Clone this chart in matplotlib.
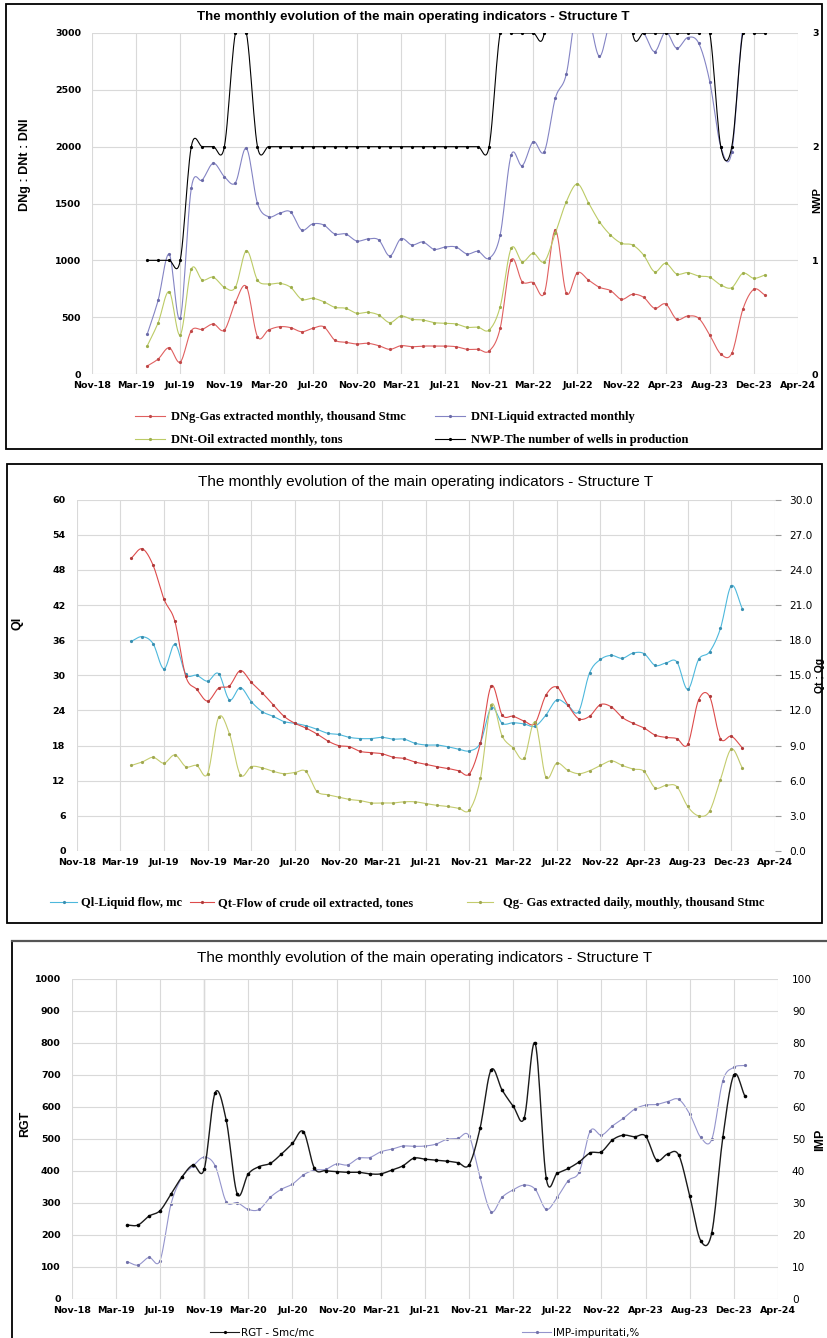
import numpy as np
import pandas as pd
import matplotlib
matplotlib.use("Agg")
import matplotlib.pyplot as plt
from matplotlib.lines import Line2D
from matplotlib.patches import Rectangle

# ---------------------------------------------------------------- data
months = pd.date_range("2019-04-01", "2023-12-01", freq="MS")

tick_labels = ["Nov-18", "Mar-19", "Jul-19", "Nov-19", "Mar-20", "Jul-20",
               "Nov-20", "Mar-21", "Jul-21", "Nov-21", "Mar-22", "Jul-22",
               "Nov-22", "Apr-23", "Aug-23", "Dec-23", "Apr-24"]

# Chart 1 - monthly volumes
dng = [70, 132, 231, 105, 381, 393, 440, 387, 631, 768,
       328, 387, 416, 408, 372, 401, 416, 299, 279, 264,
       270, 249, 217, 249, 240, 246, 246, 246, 240, 217,
       217, 202, 402, 1003, 812, 804, 710, 1267, 710, 892,
       827, 763, 734, 657, 701, 675, 578, 616, 481, 510,
       490, 343, 176, 182, 569, 745, 695]
dni = [349, 651, 1053, 490, 1634, 1707, 1854, 1736, 1683, 1986,
       1502, 1384, 1414, 1426, 1267, 1320, 1311, 1232, 1232, 1170,
       1188, 1179, 1038, 1190, 1135, 1161, 1097, 1117, 1117, 1056,
       1079, 1018, 1223, 1927, 1833, 2044, 1956, 2426, 2640, 3250,
       3150, 2794, 3100, 3050, 3020, 3000, 2836, 3010, 2866, 2960,
       2910, 2573, 2000, 1956, 3050, 3250, 3200]
dnt = [246, 452, 724, 343, 921, 827, 851, 763, 763, 1085,
       827, 792, 798, 763, 657, 666, 636, 587, 578, 534,
       543, 519, 452, 510, 481, 475, 452, 446, 440, 411,
       411, 387, 592, 1106, 988, 1062, 988, 1238, 1516, 1672,
       1508, 1340, 1223, 1150, 1135, 1047, 900, 974, 880, 892,
       862, 851, 783, 760, 886, 842, 871]
nwp = [1, 1, 1, 1, 2, 2, 2, 2, 3, 3,
       2, 2, 2, 2, 2, 2, 2, 2, 2, 2,
       2, 2, 2, 2, 2, 2, 2, 2, 2, 2,
       2, 2, 3, 3, 3, 3, 3, 4, 4, 4,
       4, 4, 4, 4, 3, 3, 3, 3, 3, 3,
       3, 3, 2, 2, 3, 3, 3]

# Chart 2 - daily flows
ql = [35.8, 36.6, 35.4, 31.1, 35.3, 30.2, 30.0, 29.0, 30.3, 25.8,
      27.9, 25.5, 23.8, 23.0, 22.1, 21.8, 21.4, 20.8, 20.1, 19.9,
      19.4, 19.2, 19.2, 19.4, 19.1, 19.1, 18.4, 18.1, 18.1, 17.8,
      17.4, 17.1, 18.5, 24.5, 21.8, 21.9, 21.7, 21.3, 23.2, 25.8,
      24.9, 23.8, 30.4, 32.7, 33.4, 32.9, 33.8, 33.7, 31.7, 32.1,
      32.3, 27.6, 32.7, 34.0, 38.0, 45.3, 41.4]
qt = [25.0, 25.8, 24.4, 21.5, 19.6, 14.9, 13.8, 12.8, 13.9, 14.1,
      15.4, 14.4, 13.5, 12.5, 11.5, 10.9, 10.5, 10.0, 9.4, 9.0,
      8.9, 8.5, 8.4, 8.3, 8.0, 7.9, 7.6, 7.4, 7.2, 7.05,
      6.85, 6.6, 9.2, 14.1, 11.6, 11.5, 11.1, 10.9, 13.3, 14.0,
      12.5, 11.3, 11.5, 12.5, 12.3, 11.4, 10.9, 10.5, 9.9, 9.7,
      9.6, 9.1, 12.9, 13.2, 9.6, 9.8, 8.8]
qg = [7.3, 7.6, 8.0, 7.5, 8.2, 7.2, 7.3, 6.6, 11.4, 10.0,
      6.5, 7.2, 7.1, 6.8, 6.6, 6.7, 6.8, 5.1, 4.8, 4.6,
      4.4, 4.3, 4.1, 4.1, 4.1, 4.2, 4.2, 4.05, 3.9, 3.8,
      3.65, 3.5, 6.2, 12.5, 9.8, 8.8, 7.9, 11.0, 6.3, 7.5,
      6.9, 6.6, 6.85, 7.3, 7.7, 7.3, 7.0, 6.8, 5.4, 5.6,
      5.5, 3.8, 3.0, 3.4, 6.1, 8.7, 7.1]

# Chart 3 - gas ratio and impurities
rgt = [231, 231, 259, 276, 328, 382, 419, 405, 645, 559,
       328, 391, 414, 424, 453, 486, 523, 408, 401, 398,
       396, 396, 391, 391, 403, 416, 440, 437, 434, 431,
       426, 419, 533, 716, 653, 603, 565, 799, 377, 393,
       408, 429, 457, 460, 497, 512, 507, 509, 434, 453,
       450, 322, 182, 207, 505, 700, 634]
imp = [11.7, 10.6, 13.0, 12.0, 29.7, 38.0, 41.6, 44.3, 41.6, 30.4,
       30.1, 28.0, 28.0, 31.8, 34.3, 35.9, 38.8, 40.3, 40.5, 42.2,
       41.9, 44.0, 44.2, 46.0, 46.8, 47.8, 47.7, 47.8, 48.4, 49.9,
       50.2, 51.0, 38.0, 27.3, 31.8, 34.1, 35.6, 34.3, 28.0, 31.8,
       37.0, 39.8, 52.6, 51.2, 54.1, 56.5, 59.3, 60.6, 60.8, 61.7,
       62.4, 57.8, 50.5, 49.9, 68.2, 72.4, 73.0]

TITLE = "The monthly evolution of the main operating indicators - Structure T"

# ---------------------------------------------------------------- helpers
W, H = 827, 1338
fig = plt.figure(figsize=(W / 100, H / 100), dpi=100)
fig.patch.set_facecolor("white")

# month position on the axis, counted from Nov-2018
xm = np.asarray((months.year - 2018) * 12 + months.month - 11, dtype=float)

GRID = "#d9d9d9"
BOLD_TICK = dict(family="DejaVu Sans", weight="bold", size=6.8)
PLAIN_TICK = dict(family="DejaVu Sans", size=7.6)
SERIF_LEG = dict(family="Liberation Serif", weight="bold", size=9)


def fx(x):
    return x / W


def fy(y):
    return 1 - y / H


def axes_px(x0, y0, x1, y1):
    return fig.add_axes([fx(x0), fy(y1), (x1 - x0) / W, (y1 - y0) / H])


def frame_px(x0, y0, x1, y1, color="black", lw=1.3):
    fig.add_artist(Rectangle((fx(x0), fy(y1)), (x1 - x0) / W, (y1 - y0) / H,
                             transform=fig.transFigure, fill=False,
                             ec=color, lw=lw, clip_on=False))


def smooth(x, y, n=12):
    """Catmull-Rom curve through the points (smoothed-line look)."""
    x = np.asarray(x, float)
    y = np.asarray(y, float)
    px = np.concatenate([[2 * x[0] - x[1]], x, [2 * x[-1] - x[-2]]])
    py = np.concatenate([[2 * y[0] - y[1]], y, [2 * y[-1] - y[-2]]])
    t = np.linspace(0, 1, n, endpoint=False)[:, None]
    out = []
    for p in (px, py):
        p0, p1, p2, p3 = p[:-3], p[1:-2], p[2:-1], p[3:]
        c = 0.5 * (2 * p1 + (-p0 + p2) * t + (2 * p0 - 5 * p1 + 4 * p2 - p3) * t ** 2
                   + (-p0 + 3 * p1 - 3 * p2 + p3) * t ** 3)
        out.append(np.append(c.T.ravel(), p[-2]))
    return out


def series(ax, y, color, mcolor=None, lw=0.8, ms=2.3):
    sx, sy = smooth(xm, y)
    ax.plot(sx, sy, color=color, lw=lw, solid_capstyle="round")
    ax.plot(xm, y, ls="none", marker="o", ms=ms, color=mcolor or color,
            mec="none")


def handle(color, mcolor=None):
    return Line2D([], [], color=color, lw=0.8, marker="o", ms=2.3,
                  mfc=mcolor or color, mec="none")


def legend_item(h, label, x, y, prop, hlen_px=30, gap_px=6):
    size = prop["size"] * 100 / 72
    fig.legend([h], [label], loc="center left",
               bbox_to_anchor=(fx(x), fy(y)), frameon=False, prop=prop,
               borderpad=0, borderaxespad=0, handlelength=hlen_px / size,
               handletextpad=gap_px / size)


def base_axes(ax, ymax, ystep, left_fmt):
    ax.set_xlim(0, 64)
    ax.set_xticks(range(0, 65, 4))
    ax.set_xticklabels(tick_labels, **BOLD_TICK)
    ax.set_ylim(0, ymax)
    yt = np.arange(0, ymax + ystep / 2, ystep)
    ax.set_yticks(yt)
    ax.set_yticklabels([left_fmt.format(v) for v in yt], **BOLD_TICK)
    ax.grid(True, color=GRID, lw=0.8)
    ax.set_axisbelow(True)
    for s in ax.spines.values():
        s.set_visible(False)
    ax.tick_params(length=0, pad=8)
    ax.tick_params(axis="x", pad=5)


def right_axes(ax, ymax, ystep, fmt, prop, ticklen=0):
    ax2 = ax.twinx()
    ax2.set_ylim(0, ymax)
    yt = np.arange(0, ymax + ystep / 2, ystep)
    ax2.set_yticks(yt)
    ax2.set_yticklabels([fmt.format(v) for v in yt], **prop)
    for s in ax2.spines.values():
        s.set_visible(False)
    ax2.tick_params(length=ticklen, pad=10 - ticklen, color="#9a9a9a")
    return ax2


# ---------------------------------------------------------------- chart 1
frame_px(6, 4, 822, 449)
ax1 = axes_px(92, 33, 798, 374)
base_axes(ax1, 3000, 500, "{:.0f}")
ax1b = right_axes(ax1, 3, 1, "{:.0f}", BOLD_TICK)
c_dng, c_dni, c_dnt = "#e06060", "#8484c4", "#bccb66"
series(ax1, dng, c_dng, "#c04848")
series(ax1, dnt, c_dnt, "#9eae4c")
series(ax1, dni, c_dni, "#6a6aa8")
series(ax1b, nwp, "black")
fig.text(fx(413), fy(17), TITLE, ha="center", va="center",
         family="Liberation Sans", weight="bold", size=9.6)
fig.text(fx(25), fy(165), "DNg : DNt : DNI", rotation=90, ha="center",
         va="center", family="Liberation Sans", weight="bold", size=9)
fig.text(fx(817), fy(200), "NWP", rotation=90, ha="center", va="center",
         family="Liberation Sans", weight="bold", size=8)
legend_item(handle(c_dng, "#c04848"), "DNg-Gas extracted monthly, thousand Stmc",
            135, 417, SERIF_LEG)
legend_item(handle(c_dni, "#6a6aa8"), "DNI-Liquid extracted monthly",
            435, 417, SERIF_LEG)
legend_item(handle(c_dnt, "#9eae4c"), "DNt-Oil extracted monthly, tons",
            135, 440, SERIF_LEG)
legend_item(handle("black"), "NWP-The number of wells in production",
            435, 440, SERIF_LEG)

# ---------------------------------------------------------------- chart 2
frame_px(7, 464, 822, 923)
ax2 = axes_px(76.7, 499.6, 775, 851)
base_axes(ax2, 60, 6, "{:.0f}")
ax2b = right_axes(ax2, 30, 3, "{:.1f}", PLAIN_TICK, ticklen=4)
c_ql, c_qt, c_qg = "#4db8dc", "#dd4b4b", "#c4cc6e"
series(ax2, ql, c_ql, "#3a8fb0")
series(ax2b, qt, c_qt, "#b03a3a")
series(ax2b, qg, c_qg, "#a0a850")
fig.text(fx(426), fy(482), TITLE, ha="center", va="center",
         family="Liberation Sans", size=11)
fig.text(fx(18), fy(623), "Ql", rotation=90, ha="center", va="center",
         family="Liberation Sans", weight="bold", size=9)
fig.text(fx(820), fy(675), "Qt ; Qg", rotation=90, ha="center",
         va="center", family="Liberation Sans", weight="bold", size=7.5)
legend_item(handle(c_ql, "#3a8fb0"), "Ql-Liquid flow, mc", 50, 903, SERIF_LEG,
            hlen_px=27, gap_px=4)
legend_item(handle(c_qt, "#b03a3a"), "Qt-Flow of crude oil extracted, tones",
            190, 903, SERIF_LEG, hlen_px=24, gap_px=4)
legend_item(handle(c_qg, "#a0a850"),
            "Qg- Gas extracted daily, mouthly, thousand Stmc",
            467, 903, SERIF_LEG, hlen_px=26, gap_px=10)

# ---------------------------------------------------------------- chart 3
fig.add_artist(Line2D([fx(12), fx(12)], [fy(941), fy(1345)],
                      transform=fig.transFigure, color="black", lw=1.3))
fig.add_artist(Line2D([fx(12), fx(830)], [fy(941), fy(941)],
                      transform=fig.transFigure, color="#555555", lw=1.6))
ax3 = axes_px(71.7, 979, 778, 1299)
base_axes(ax3, 1000, 100, "{:.0f}")
ax3.axvline(12, color="#b4b4b4", lw=0.9, zorder=0.5)
ax3b = right_axes(ax3, 100, 10, "{:.0f}", PLAIN_TICK)
c_rgt, c_imp = "#1a1a1a", "#9494cc"
series(ax3b, imp, c_imp, "#7272aa")
series(ax3, rgt, c_rgt, "black", lw=1.0, ms=2.6)
ax3.set_zorder(ax3b.get_zorder() + 1)
ax3.patch.set_visible(False)
ax3b.patch.set_visible(True)
ax3b.patch.set_facecolor("white")
fig.text(fx(425), fy(958), TITLE, ha="center", va="center",
         family="Liberation Sans", size=11)
fig.text(fx(25), fy(1124), "RGT", rotation=90, ha="center", va="center",
         family="Liberation Sans", weight="bold", size=9)
fig.text(fx(820), fy(1140), "IMP", rotation=90, ha="center", va="center",
         family="Liberation Sans", weight="bold", size=9)
SANS_LEG = dict(family="DejaVu Sans", size=7.5)
legend_item(handle(c_rgt, "black"), "RGT - Smc/mc", 210, 1333, SANS_LEG,
            hlen_px=29, gap_px=2)
legend_item(handle(c_imp, "#7272aa"), "IMP-impuritati,%", 522, 1333, SANS_LEG,
            hlen_px=29, gap_px=2)

fig.savefig("out.png", dpi=100, facecolor="white")
